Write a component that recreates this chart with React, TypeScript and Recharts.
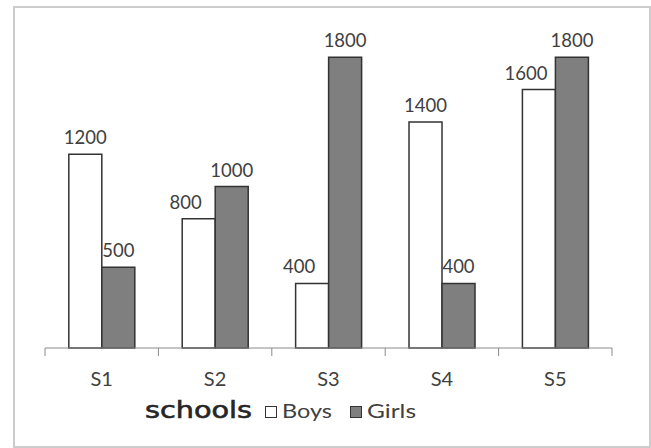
import React from 'react';
import { BarChart, Bar, XAxis, YAxis, LabelList } from 'recharts';

const categories = ['S1', 'S2', 'S3', 'S4', 'S5'];
const boys = [1200, 800, 400, 1400, 1600];
const girls = [500, 1000, 1800, 400, 1800];
const seriesNames = ['Boys', 'Girls'];
const axisTitle = 'schools';

const data = categories.map((c, i) => ({ name: c, Boys: boys[i], Girls: girls[i] }));

const TEXT = '#404040';
const LABEL_FONT = 'Lato, "Open Sans", sans-serif';

const CatTick = (props: any) => {
  const { x, y, payload, index, visibleTicksCount } = props;
  const half = payload && payload.offset ? payload.offset : 56.7;
  const last = index === (visibleTicksCount ?? categories.length) - 1;
  return (
    <g>
      <line x1={x - half} x2={x - half} y1={y} y2={y + 8} stroke="#8a8a8a" strokeWidth={1} />
      {last && <line x1={x + half} x2={x + half} y1={y} y2={y + 8} stroke="#8a8a8a" strokeWidth={1} />}
      <text x={x} y={y + 38} textAnchor="middle" fontFamily={LABEL_FONT} fontSize={20} fill={TEXT}>
        {payload.value}
      </text>
    </g>
  );
};

const makeLabel = (key: 'Boys' | 'Girls') => (props: any) => {
  const { x, y, width, value, index } = props;
  let dx = 0;
  if (key === 'Boys' && girls[index] > boys[index]) dx = -13;
  return (
    <text x={x + width / 2 + dx} y={y - 10} textAnchor="middle" fontFamily={LABEL_FONT} fontSize={18.5} fill={TEXT}>
      {value}
    </text>
  );
};

export default function App() {
  return (
    <div style={{ position: 'absolute', left: 0, top: 0, width: 651, height: 448, background: '#fff' }}>
      <div
        style={{
          position: 'absolute',
          left: 13,
          top: 6,
          width: 638,
          height: 442,
          boxSizing: 'border-box',
          border: '2px solid #cccccc',
        }}
      />
      <div style={{ position: 'absolute', left: 0, top: 0 }}>
        <BarChart
          width={651}
          height={448}
          data={data}
          margin={{ top: 25, right: 39, left: 45, bottom: 70 }}
          barCategoryGap="21%"
          barGap={0}
        >
          <YAxis hide domain={[0, 2000]} />
          <XAxis
            dataKey="name"
            height={30}
            tickSize={0}
            tickMargin={0}
            tickLine={false}
            axisLine={{ stroke: '#8a8a8a', strokeWidth: 1 }}
            tick={<CatTick />}
            interval={0}
          />
          <Bar dataKey="Boys" fill="#ffffff" stroke="#333333" strokeWidth={1.5} isAnimationActive={false}>
            <LabelList dataKey="Boys" content={makeLabel('Boys')} />
          </Bar>
          <Bar dataKey="Girls" fill="#7f7f7f" stroke="#333333" strokeWidth={1.5} isAnimationActive={false}>
            <LabelList dataKey="Girls" content={makeLabel('Girls')} />
          </Bar>
        </BarChart>
      </div>
      <svg style={{ position: 'absolute', left: 0, top: 0 }} width={651} height={448} pointerEvents="none">
        <text
          x={145}
          y={418}
          fontFamily='"DejaVu Sans", Verdana, sans-serif'
          fontSize={23}
          fill="#262626"
          stroke="#262626"
          strokeWidth={0.6}
          textLength={107}
          lengthAdjust="spacingAndGlyphs"
        >
          {axisTitle}
        </text>
        <rect x={265.5} y={406.5} width={11} height={11} fill="#ffffff" stroke="#333" strokeWidth={1} />
        <text x={282} y={418} fontFamily={LABEL_FONT} fontSize={19} fill={TEXT} textLength={50} lengthAdjust="spacingAndGlyphs">
          {seriesNames[0]}
        </text>
        <rect x={350.5} y={406.5} width={11} height={11} fill="#7f7f7f" stroke="#333" strokeWidth={1} />
        <text x={367} y={418} fontFamily={LABEL_FONT} fontSize={19} fill={TEXT} textLength={49} lengthAdjust="spacingAndGlyphs">
          {seriesNames[1]}
        </text>
      </svg>
    </div>
  );
}
